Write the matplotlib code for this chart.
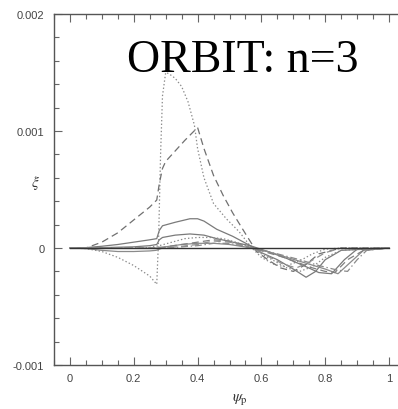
import matplotlib
matplotlib.use("Agg")
import matplotlib.pyplot as plt
import numpy as np
from matplotlib.ticker import MultipleLocator

# xi values stored in units of 1e-3
x_dot_big = [0, 0.05, 0.10, 0.15, 0.20, 0.25, 0.272, 0.278, 0.284, 0.29, 0.30, 0.31, 0.33,
             0.35, 0.37, 0.39, 0.40, 0.42, 0.45, 0.49, 0.53, 0.57, 0.60, 0.64, 0.67, 0.72,
             0.76, 0.80, 0.85, 1.0]
y_dot_big = [0, -0.005, -0.03, -0.08, -0.15, -0.24, -0.31, 0.10, 0.80, 1.30, 1.50, 1.49, 1.45,
             1.38, 1.25, 1.05, 0.85, 0.60, 0.38, 0.25, 0.14, 0.0, -0.08, -0.14, -0.16, -0.11,
             -0.05, -0.01, 0, 0]

x_dash_big = [0, 0.05, 0.10, 0.15, 0.20, 0.25, 0.272, 0.28, 0.29, 0.30, 0.33, 0.36, 0.40, 0.42,
              0.45, 0.48, 0.51, 0.555, 0.585, 0.62, 0.66, 0.70, 0.74, 0.78, 0.85, 1.0]
y_dash_big = [0, 0, 0.05, 0.13, 0.24, 0.35, 0.41, 0.55, 0.68, 0.74, 0.83, 0.92, 1.03, 0.85,
              0.62, 0.45, 0.30, 0.10, -0.03, -0.10, -0.17, -0.20, -0.14, -0.05, 0, 0]

x_solid_up = [0, 0.05, 0.10, 0.15, 0.20, 0.25, 0.272, 0.28, 0.29, 0.33, 0.376, 0.40, 0.42, 0.46,
              0.51, 0.565, 0.60, 0.65, 0.70, 0.74, 0.77, 0.80, 0.85, 1.0]
y_solid_up = [0, 0.003, 0.015, 0.03, 0.05, 0.07, 0.08, 0.15, 0.19, 0.22, 0.25, 0.25, 0.23, 0.16,
              0.10, 0.02, -0.04, -0.10, -0.18, -0.25, -0.20, -0.10, -0.02, 0]

x_solid_lo = [0, 0.10, 0.20, 0.25, 0.272, 0.28, 0.29, 0.33, 0.376, 0.42, 0.46, 0.51, 0.565,
              0.62, 0.68, 0.74, 0.78, 0.82, 0.86, 0.90, 1.0]
y_solid_lo = [0, 0.003, 0.01, 0.02, 0.03, 0.07, 0.09, 0.11, 0.12, 0.11, 0.08, 0.05, 0.02,
              -0.03, -0.09, -0.16, -0.21, -0.22, -0.10, -0.01, 0]

x_solid_neg = [0, 0.05, 0.10, 0.15, 0.20, 0.25, 0.27, 0.30, 0.35, 0.40, 0.45, 0.50, 0.57, 0.62,
               0.68, 0.74, 0.80, 0.84, 0.88, 0.92, 1.0]
y_solid_neg = [0, -0.005, -0.02, -0.03, -0.03, -0.025, -0.02, 0.01, 0.03, 0.04, 0.04, 0.03, 0.0,
               -0.03, -0.08, -0.13, -0.18, -0.22, -0.12, -0.02, 0]

x_dot_small = [0, 0.15, 0.25, 0.28, 0.32, 0.36, 0.40, 0.44, 0.48, 0.52, 0.57, 0.60, 0.64, 0.68,
               0.72, 0.76, 0.80, 0.85, 1.0]
y_dot_small = [0, 0, 0.005, 0.02, 0.05, 0.08, 0.09, 0.09, 0.08, 0.05, 0.0, -0.05, -0.11, -0.17,
               -0.20, -0.16, -0.08, -0.02, 0]

x_dash_small = [0, 0.25, 0.30, 0.35, 0.40, 0.45, 0.50, 0.57, 0.62, 0.67, 0.72, 0.76, 0.80, 0.83,
                0.87, 0.92, 1.0]
y_dash_small = [0, 0, 0.01, 0.03, 0.05, 0.07, 0.06, 0.0, -0.04, -0.08, -0.13, -0.17, -0.20, -0.21,
                -0.10, -0.02, 0]

x_dashdot = [0, 0.30, 0.40, 0.45, 0.50, 0.57, 0.65, 0.72, 0.78, 0.84, 0.87, 0.90, 0.93, 1.0]
y_dashdot = [0, 0, 0.02, 0.04, 0.04, 0.0, -0.05, -0.10, -0.15, -0.19, -0.20, -0.10, -0.02, 0]

x_dash_mid = [0, 0.30, 0.40, 0.45, 0.50, 0.57, 0.62, 0.67, 0.71, 0.75, 0.80, 0.85, 1.0]
y_dash_mid = [0, 0, 0.03, 0.06, 0.05, 0.0, -0.07, -0.14, -0.17, -0.12, -0.04, 0, 0]

x_base = [0, 1.0]
y_base = [0, 0]

xticks = [0, 0.2, 0.4, 0.6, 0.8, 1.0]
xtick_labels = ["0", "0.2", "0.4", "0.6", "0.8", "1"]
yticks = [-0.001, 0, 0.001, 0.002]
ytick_labels = ["-0.001", "0", "0.001", "0.002"]

plt.rcParams["lines.scale_dashes"] = False
plt.rcParams["mathtext.fontset"] = "stix"

fig = plt.figure(figsize=(3.98, 4.10), dpi=100)
ax = fig.add_axes([54 / 398, 44 / 410, 351 / 398, 351 / 410])

dot = (0, (1, 1.6))
dash = (0, (5, 3))
dashdot = (0, (5, 2, 1, 2))
curves = [
    (x_dot_big, y_dot_big, dot, "#8a8a8a"),
    (x_dash_big, y_dash_big, dash, "#707070"),
    (x_solid_up, y_solid_up, "-", "#7a7a7a"),
    (x_solid_lo, y_solid_lo, "-", "#7a7a7a"),
    (x_solid_neg, y_solid_neg, "-", "#8a8a8a"),
    (x_dot_small, y_dot_small, dot, "#8a8a8a"),
    (x_dash_small, y_dash_small, dash, "#808080"),
    (x_dashdot, y_dashdot, dashdot, "#8a8a8a"),
    (x_dash_mid, y_dash_mid, dash, "#909090"),
]
for xs, ys, ls, col in curves:
    ax.plot(xs, np.array(ys) * 1e-3, linestyle=ls, color=col, lw=0.9)
ax.plot(x_base, y_base, color="#333333", lw=1.0)

ax.set_xlim(-0.05, 1.05)
ax.set_ylim(-0.001, 0.002)
ax.set_xticks(xticks)
ax.set_xticklabels(xtick_labels)
ax.set_yticks(yticks)
ax.set_yticklabels(ytick_labels)
ax.xaxis.set_minor_locator(MultipleLocator(0.05))
ax.yaxis.set_minor_locator(MultipleLocator(0.0002))
ax.tick_params(which="both", direction="in", top=True, right=False,
               colors="#666666", labelcolor="#444444", labelsize=8)
ax.tick_params(which="major", length=6, width=0.8)
ax.tick_params(which="minor", length=3.5, width=0.8)
ax.tick_params(axis="x", which="major", pad=6)
ax.tick_params(axis="y", which="major", pad=7)
for tl in ax.get_xticklabels() + ax.get_yticklabels():
    tl.set_family("Liberation Sans")
for s in ax.spines.values():
    s.set_color("#555555")
    s.set_linewidth(1.0)

fig.text(35 / 398, 1 - 183 / 410, r"$\xi$", fontsize=11, color="#333333",
         ha="center", va="center")
fig.text(240 / 398, 1 - 400 / 410, r"$\psi_{\rm p}$", fontsize=11, color="#333333",
         ha="center", va="center")

fig.text(127 / 398, 1 - 72 / 410, "ORBIT: n=3", family="Liberation Serif",
         fontsize=33, color="black", va="baseline", ha="left")

fig.savefig("out.png", dpi=100)
